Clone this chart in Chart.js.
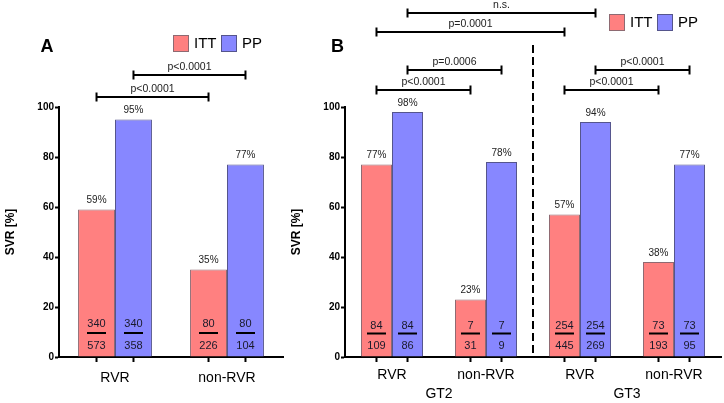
<!DOCTYPE html>
<html>
<head>
<meta charset="utf-8">
<script src="https://cdn.jsdelivr.net/npm/chart.js@4.4.1/dist/chart.umd.min.js"></script>
<style>
  body { margin: 0; background: #fff; width: 724px; height: 403px; position: relative; overflow: hidden; }
  canvas { position: absolute; top: 0; }
  #chartA { left: 0; }
  #chartB { left: 286px; }
</style>
</head>
<body>
<canvas id="chartA" width="290" height="403"></canvas>
<canvas id="chartB" width="438" height="403"></canvas>
<script>
// ---- data, panel A ----
const categoriesA = ['RVR', 'non-RVR'];
const ittA = [59, 35];
const ppA = [95, 77];
const ittNumA = [340, 80];
const ittDenA = [573, 226];
const ppNumA = [340, 80];
const ppDenA = [358, 104];
// brackets: dataset, from bar, to bar, height (in % units), label
const bracketsA = [
  { ds: 0, from: 0, to: 1, level: 104, label: 'p<0.0001' },
  { ds: 1, from: 0, to: 1, level: 112.8, label: 'p<0.0001' }
];

// ---- data, panel B ----
const categoriesB = ['RVR', 'non-RVR', 'RVR', 'non-RVR'];
const genotypesB = ['GT2', 'GT3'];
const ittB = [77, 23, 57, 38];
const ppB = [98, 78, 94, 77];
const ittNumB = [84, 7, 254, 73];
const ittDenB = [109, 31, 445, 193];
const ppNumB = [84, 7, 254, 73];
const ppDenB = [86, 9, 269, 95];
const bracketsB = [
  { ds: 0, from: 0, to: 1, level: 106.8, label: 'p<0.0001' },
  { ds: 1, from: 0, to: 1, level: 114.8, label: 'p=0.0006' },
  { ds: 0, from: 0, to: 2, level: 130, label: 'p=0.0001' },
  { ds: 1, from: 0, to: 2, level: 137.6, label: 'n.s.' },
  { ds: 0, from: 2, to: 3, level: 106.8, label: 'p<0.0001' },
  { ds: 1, from: 2, to: 3, level: 114.8, label: 'p<0.0001' }
];

const FONT = '"Liberation Sans", Arial, sans-serif';
const ITT_FILL = '#FF8080', ITT_LINE = '#8E6A72';
const PP_FILL = '#8787FF', PP_LINE = '#55558C';

function line(ctx, x1, y1, x2, y2) {
  ctx.beginPath();
  ctx.moveTo(x1, y1);
  ctx.lineTo(x2, y2);
  ctx.stroke();
}

function overlay(cfg) {
  return {
    id: 'overlay' + cfg.letter,
    afterDraw(chart) {
      const ctx = chart.ctx;
      const yS = chart.scales.y, xS = chart.scales.x;
      const bars = [chart.getDatasetMeta(0).data, chart.getDatasetMeta(1).data];
      const base = yS.getPixelForValue(0);
      ctx.save();
      ctx.strokeStyle = '#000';
      ctx.lineWidth = 2;

      // tick marks under each bar
      bars.forEach(set => set.forEach(b => line(ctx, b.x, base, b.x, base + 5)));

      // percentages above bars
      ctx.font = '10px ' + FONT;
      ctx.fillStyle = '#222';
      ctx.textAlign = 'center';
      ctx.textBaseline = 'bottom';
      chart.data.datasets.forEach((ds, i) => ds.data.forEach((v, j) => {
        const b = bars[i][j];
        ctx.fillText(v + '%', b.x, b.y - 4);
      }));

      // n / N fractions inside bars
      ctx.font = '11px ' + FONT;
      ctx.fillStyle = '#1a1a2a';
      ctx.textBaseline = 'middle';
      [cfg.ittNum, cfg.ppNum].forEach((nums, i) => nums.forEach((n, j) => {
        const b = bars[i][j];
        const d = i === 0 ? cfg.ittDen[j] : cfg.ppDen[j];
        ctx.fillText(String(n), b.x, base - cfg.fracY[0]);
        ctx.fillText(String(d), b.x, base - 11);
        line(ctx, b.x - 9.5, base - cfg.fracY[1], b.x + 9.5, base - cfg.fracY[1]);
      }));

      // significance brackets
      ctx.font = '10.5px ' + FONT;
      ctx.fillStyle = '#222';
      cfg.brackets.forEach(br => {
        const x1 = bars[br.ds][br.from].x, x2 = bars[br.ds][br.to].x;
        const yy = yS.getPixelForValue(br.level);
        line(ctx, x1, yy, x2, yy);
        line(ctx, x1, yy - 4.5, x1, yy + 4.5);
        line(ctx, x2, yy - 4.5, x2, yy + 4.5);
        ctx.fillText(br.label, (x1 + x2) / 2, yy - 8);
      });

      // divider and genotype labels
      if (cfg.groups) {
        const xm = (xS.getPixelForTick(1) + xS.getPixelForTick(2)) / 2;
        ctx.setLineDash([8, 4]);
        line(ctx, xm, yS.getPixelForValue(124.8), xm, base - 1);
        ctx.setLineDash([]);
        ctx.font = '14px ' + FONT;
        ctx.fillStyle = '#000';
        cfg.groups.forEach((g, k) => {
          const gx = (xS.getPixelForTick(2 * k) + xS.getPixelForTick(2 * k + 1)) / 2;
          ctx.fillText(g, gx, 394);
        });
      }

      // panel letter
      ctx.font = 'bold 18px ' + FONT;
      ctx.fillStyle = '#000';
      ctx.fillText(cfg.letter, cfg.letterX, 47);

      // legend
      ctx.lineWidth = 1;
      ctx.textAlign = 'left';
      ctx.font = '15px ' + FONT;
      chart.data.datasets.forEach((ds, i) => {
        const bx = cfg.legendX[i];
        ctx.fillStyle = ds.backgroundColor;
        ctx.fillRect(bx, cfg.legendY, 16, 17);
        ctx.strokeStyle = ds.borderColor;
        ctx.strokeRect(bx + 0.5, cfg.legendY + 0.5, 15, 16);
        ctx.fillStyle = '#000';
        ctx.fillText(ds.label, bx + 21, cfg.legendY + 9);
      });
      ctx.restore();
    }
  };
}

function makeChart(id, cats, itt, pp, pad, labelPad, cfg) {
  return new Chart(document.getElementById(id), {
    type: 'bar',
    data: {
      labels: cats,
      datasets: [
        { label: 'ITT', data: itt, backgroundColor: ITT_FILL, borderColor: ITT_LINE, borderWidth: 1 },
        { label: 'PP', data: pp, backgroundColor: PP_FILL, borderColor: PP_LINE, borderWidth: 1 }
      ]
    },
    options: {
      responsive: false,
      animation: false,
      devicePixelRatio: 1,
      categoryPercentage: 0.66,
      barPercentage: 1,
      layout: { padding: pad },
      plugins: { legend: { display: false }, tooltip: { enabled: false } },
      scales: {
        x: {
          grid: { display: false, drawTicks: false },
          border: { display: true, width: 2, color: '#000' },
          ticks: { color: '#000', font: { family: FONT, size: 14 }, padding: labelPad, maxRotation: 0, autoSkip: false },
          afterFit: s => { s.height = 46; }
        },
        y: {
          min: 0,
          max: 100,
          ticks: { stepSize: 20, color: '#000', font: { family: FONT, size: 10, weight: 'bold' }, padding: 1 },
          grid: { display: true, drawOnChartArea: false, tickLength: 4, tickWidth: 2, color: '#000' },
          border: { display: true, width: 2, color: '#000' },
          title: { display: true, text: 'SVR [%]', color: '#000', font: { family: FONT, size: 12, weight: 'bold' }, padding: { top: 3, bottom: 0 } },
          afterFit: s => { s.width = 59; }
        }
      }
    },
    plugins: [overlay(cfg)]
  });
}

makeChart('chartA', categoriesA, ittA, ppA, { top: 107, right: 7, left: 0, bottom: 0 }, 13, {
  letter: 'A', letterX: 47, legendX: [173, 221], legendY: 35,
  ittNum: ittNumA, ittDen: ittDenA, ppNum: ppNumA, ppDen: ppDenA,
  fracY: [33, 24], brackets: bracketsA
});

makeChart('chartB', categoriesB, ittB, ppB, { top: 107, right: 3, left: 0, bottom: 0 }, 10, {
  letter: 'B', letterX: 51.5, legendX: [323, 371], legendY: 14,
  ittNum: ittNumB, ittDen: ittDenB, ppNum: ppNumB, ppDen: ppDenB,
  fracY: [31, 23.5], brackets: bracketsB, groups: genotypesB
});
</script>
</body>
</html>
